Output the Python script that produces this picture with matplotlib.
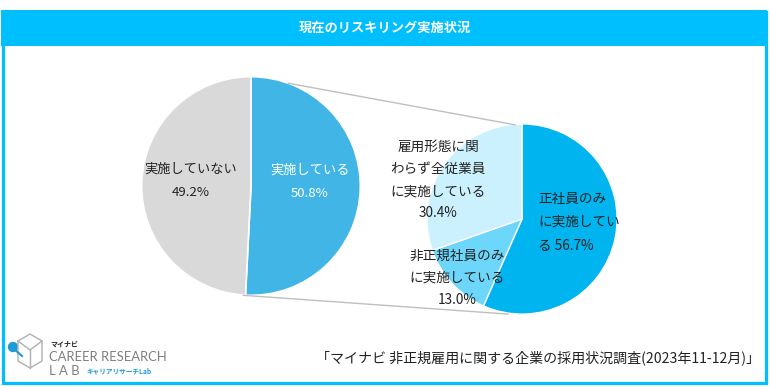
import numpy as np
import matplotlib.pyplot as plt
from matplotlib.patches import Rectangle, Circle, ConnectionPatch

plt.rcParams['font.family'] = ['Noto Sans CJK JP', 'DejaVu Sans']

# data
title = '現在のリスキリング実施状況'
main_labels = ['実施している', '実施していない']
main_values = [50.8, 49.2]
main_colors = ['#41B6E6', '#D9D9D9']

sub_labels = ['正社員のみ\nに実施してい\nる', '非正規社員のみ\nに実施している\n', '雇用形態に関\nわらず全従業員\nに実施している\n']
sub_values = [56.7, 13.0, 30.4]
sub_colors = ['#00B4F0', '#6DD6FB', '#CCF1FE']

source = '「マイナビ 非正規雇用に関する企業の採用状況調査(2023年11-12月)」'

W, H = 770, 388
fig = plt.figure(figsize=(W / 100, H / 100), dpi=100)

# background / frame in pixel coords
bg = fig.add_axes([0, 0, 1, 1])
bg.set_xlim(0, W)
bg.set_ylim(H, 0)
bg.axis('off')
cyan = '#00BFFF'
bg.add_patch(Rectangle((2.5, 11.5), 763, 371, fill=False, ec=cyan, lw=2.3))
bg.add_patch(Rectangle((1, 10), 766, 36, fc=cyan, ec='none'))
bg.text(385, 28, title, ha='center', va='center', color='white', fontsize=9.5, fontweight='bold')

# source note
bg.text(760, 358, source, ha='right', va='center', fontsize=10.1, color='#222222')

# logo (rough)
bg.plot([18, 30, 42, 42, 30, 18, 18], [341, 334, 341, 361, 368, 361, 341], color='#B0B0B0', lw=1)
bg.plot([18, 30, 42], [341, 350, 341], color='#B0B0B0', lw=1)
bg.plot([30, 30], [350, 368], color='#B0B0B0', lw=1)
bg.plot([14, 22], [349, 356], color='#1E9BD7', lw=1.5)
bg.add_patch(Circle((13, 347), 4.5, color='#1E9BD7'))
bg.text(50, 344, 'マイナビ', fontsize=5, fontweight='bold', va='center', color='#222222')
bg.text(49, 357, 'CAREER RESEARCH', fontsize=9.4, family='Lato', va='center', color='#7F7F7F')
bg.text(49, 371, 'L A B', fontsize=9.4, family='Lato', va='center', color='#7F7F7F')
bg.text(86, 371, 'キャリアリサーチLab', fontsize=4.8, fontweight='bold', va='center', color='#1E9BD7')


def pie_axes(cx, cy, r):
    return fig.add_axes([(cx - r) / W, (H - cy - r) / H, 2 * r / W, 2 * r / H])


# left pie
ax1 = pie_axes(251, 186, 111.5)
ax1.pie(main_values, colors=main_colors, startangle=90, counterclock=False,
        wedgeprops=dict(edgecolor='white', linewidth=1.2))
ax1.set_xlim(-1.02, 1.02)
ax1.set_ylim(-1.02, 1.02)
ax1.text(0.54, 0.04, f'{main_labels[0]}\n{main_values[0]:.1f}%', ha='center', va='center',
         color='white', fontsize=9.5, linespacing=2.0)
ax1.text(-0.55, 0.05, f'{main_labels[1]}\n{main_values[1]:.1f}%', ha='center', va='center',
         color='#222222', fontsize=9.5, linespacing=2.0)

# right pie
ax2 = pie_axes(522, 219, 97)
ax2.pie(sub_values, colors=sub_colors, startangle=90, counterclock=False,
        wedgeprops=dict(edgecolor='white', linewidth=1))
ax2.set_xlim(-1.02, 1.02)
ax2.set_ylim(-1.02, 1.02)
ax2.text(0.17, -0.03, f'{sub_labels[0]} {sub_values[0]:.1f}%', ha='left', va='center',
         multialignment='left', color='#222222', fontsize=9.8, linespacing=1.85)
ax2.text(-0.68, -0.62, f'{sub_labels[1]}{sub_values[1]:.1f}%', ha='center', va='center',
         color='#222222', fontsize=9.8, linespacing=1.75)
ax2.text(-0.88, 0.41, f'{sub_labels[2]}{sub_values[2]:.1f}%', ha='center', va='center',
         color='#222222', fontsize=9.8, linespacing=1.75)

# connector lines
for a, b in [((0.342, 0.94), (-0.072, 0.99)), ((-0.072, -1.0), (-0.144, -1.0))]:
    con = ConnectionPatch(xyA=a, coordsA=ax1.transData, xyB=b, coordsB=ax2.transData,
                          color='#BFBFBF', lw=1)
    fig.add_artist(con)

fig.savefig('out.png', dpi=100)
